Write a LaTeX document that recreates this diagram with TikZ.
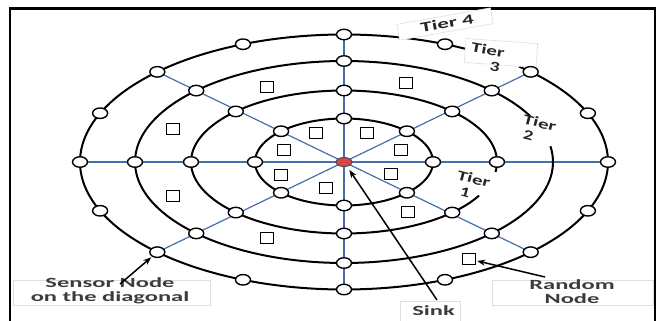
\documentclass[tikz,border=0pt]{standalone}
\usepackage{fontspec}
\setmainfont{Carlito}
\usetikzlibrary{shapes.geometric,arrows.meta}
\pgfdeclarelayer{background}
\pgfsetlayers{background,main}
\definecolor{spokeblue}{RGB}{70,110,170}
\definecolor{labelgray}{RGB}{60,60,60}
\definecolor{sinkred}{RGB}{215,70,70}
\begin{document}
\begin{tikzpicture}[x=1pt,y=-1pt,
  ring/.style={line width=2pt, black},
  spoke/.style={line width=1.2pt, spokeblue},
  snode/.style={ellipse, draw=black, line width=1.4pt, fill=white, minimum width=15pt, minimum height=10.5pt, inner sep=0pt},
  rnode/.style={rectangle, draw=black, line width=1.4pt, fill=white, minimum width=13pt, minimum height=10.5pt, inner sep=0pt},
  lblbox/.style={draw=gray!25, line width=0.6pt, fill=white, inner sep=0pt},
  lbl/.style={font=\fontsize{14}{14.5}\selectfont\bfseries, text=labelgray, align=center, inner sep=0pt},
  tier/.style={font=\fontsize{14}{15}\selectfont\bfseries, text=black!85, align=center, inner sep=0pt},
  arr/.style={line width=1.5pt, -{Stealth[length=8pt,width=6pt]}}
]
\useasboundingbox (0,0) rectangle (661,321);
\def\cx{344}\def\cy{162}
% frame
\draw[line width=2.5pt] (10,330) -- (10,8.5) -- (655,8.5) -- (655,330);

% label boxes and tier labels
\node[lblbox, rotate=10, minimum width=95pt, minimum height=16pt] (t4box) at (445,24) {};
\node[tier, rotate=10] (t4txt) at (447,23) {\scalebox{1.65}[1]{Tier 4}};
\node[lblbox, rotate=-4, minimum width=72pt, minimum height=24pt] (t3box) at (501,53) {};
\node[tier, rotate=-10] (t3txt) at (486.7,57.4) {\scalebox{1.5}[1]{Tier}\\\hspace*{19pt}\scalebox{1.4}[1]{3}};
\node[tier, rotate=-15] (t2txt) at (538,130) {\scalebox{1.5}[1]{Tier}\\\hspace*{-16pt}\scalebox{1.4}[1]{2}};
\node[tier, rotate=-15] (t1txt) at (472,186) {\scalebox{1.5}[1]{Tier}\\\hspace*{-10pt}\scalebox{1.4}[1]{1}};

\node[lblbox, minimum width=197pt, minimum height=25pt] (sensorbox) at (111.5,292.5) {};
\node[lbl] (sensortxt) at (110,291) {\scalebox{1.75}[1]{Sensor Node}\\\scalebox{1.75}[1]{on the diagonal}};
\node[lblbox, minimum width=161pt, minimum height=25pt] (randbox) at (572.5,292.5) {};
\node[lbl] (randtxt) at (572,291.5) {\scalebox{1.75}[1]{Random}\\\scalebox{1.75}[1]{Node}};
\node[lblbox, minimum width=60pt, minimum height=26pt] (sinkbox) at (430,314.5) {};
\node[lbl] (sinktxt) at (433.5,311) {\scalebox{1.75}[1]{Sink}};

% sensor nodes on rings
\foreach \t in {0,45,...,315}
  \node[snode] (a\t) at ({\cx+89*cos(\t)},{\cy-43.5*sin(\t)}) {};
\foreach \t in {0,45,...,315}
  \node[snode] (b\t) at ({\cx+153*cos(\t)},{\cy-71.5*sin(\t)}) {};
\foreach \t in {45,90,...,315}
  \node[snode] (c\t) at ({\cx+209*cos(\t)},{\cy-101*sin(\t)}) {};
\foreach \t in {0,22.5,...,337.5}
  \node[snode] (d\t) at ({\cx+264*cos(\t)},{\cy-127.5*sin(\t)}) {};

% sink
\node[ellipse, draw=black!70, line width=1pt, fill=sinkred, minimum width=16pt, minimum height=9pt, inner sep=0pt] (sink) at (\cx,\cy) {};

% random nodes
\foreach \px/\py [count=\i] in {267/87, 406/83, 173/129, 316/133, 367/133, 284/150, 401/150, 281/175, 391/174, 326/188, 173/196, 408/212, 267/238, 469/259}
  \node[rnode] (q\i) at (\px,\py) {};

% spokes and rings behind
\begin{pgfonlayer}{background}
  \foreach \t in {0,45,...,315}
    \draw[spoke] (sink.center) -- (d\t.center);
  \draw[ring] plot[domain=0:360, samples=145, smooth] ({\cx+89*cos(\x)},{\cy-43.5*sin(\x)});
  \draw[ring] plot[domain=-8:332, samples=140, smooth] ({\cx+153*cos(\x)},{\cy-71.5*sin(\x)});
  \draw[ring] plot[domain=27:369, samples=140, smooth] ({\cx+209*cos(\x)},{\cy-101*sin(\x)});
  \draw[ring] plot[domain=62:408.5, samples=140, smooth] ({\cx+264*cos(\x)},{\cy-127.5*sin(\x)});
\end{pgfonlayer}

% arrows
\coordinate (sensorfrom) at (120,284);
\draw[arr, shorten >=1pt] (sensorfrom) -- (d225);
\coordinate (sinkfrom) at (437,300);
\draw[arr, shorten >=4pt] (sinkfrom) -- (sink);
\coordinate (randfrom) at (545,277);
\draw[arr, shorten >=1pt] (randfrom) -- (q14);
\end{tikzpicture}
\end{document}
